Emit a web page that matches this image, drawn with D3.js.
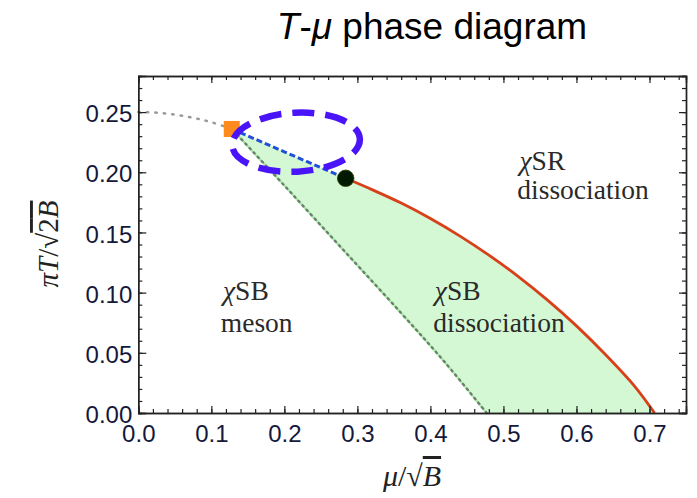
<!DOCTYPE html>
<html>
<head>
<meta charset="utf-8">
<script src="https://cdn.jsdelivr.net/npm/d3@7"></script>
<style>
  body { margin: 0; background: #fff; }
  svg { display: block; }
</style>
</head>
<body>
<div id="chart"></div>
<script>
// Tick values of the frame
const xTicks = [0, 0.1, 0.2, 0.3, 0.4, 0.5, 0.6, 0.7];
const yTicks = [0, 0.05, 0.10, 0.15, 0.20, 0.25];

// Gray dotted crossover line (mu = 0 up to the end point)
const crossMu = [0, 0.02, 0.04, 0.06, 0.08, 0.10, 0.128];
const crossT  = [0.250, 0.2497, 0.2487, 0.2470, 0.2446, 0.2416, 0.236];

// Dotted meson-melting line bounding the green region on the left
const mesonMu = [0.128, 0.20, 0.28, 0.36, 0.42, 0.477];
const mesonT  = [0.236, 0.189, 0.136, 0.083, 0.042, 0];

// Blue dashed first-order line between the two special points
const firstMu = [0.128, 0.20, 0.284];
const firstT  = [0.236, 0.217, 0.195];

// Red chiral transition line
const chiralMu = [0.284, 0.32, 0.36, 0.40, 0.44, 0.48, 0.52, 0.56, 0.60, 0.64, 0.68, 0.707];
const chiralT  = [0.195, 0.1856, 0.1744, 0.1616, 0.1472, 0.1312, 0.1136, 0.0940, 0.0724, 0.0484, 0.0220, 0];

// Special points
const endPoint = [0.128, 0.236];
const critPoint = [0.284, 0.195];

const width = 697, height = 498;

const svg = d3.select("#chart")
    .append("svg")
    .attr("width", width)
    .attr("height", height);

const x = d3.scaleLinear().domain([0, 0.75]).range([138.3, 686]);
const y = d3.scaleLinear().domain([0, 0.28]).range([413, 76]);

const zip = (a, b) => a.map((v, i) => [v, b[i]]);
const line = d3.line().x(d => x(d[0])).y(d => y(d[1]));
const smooth = d3.line().x(d => x(d[0])).y(d => y(d[1])).curve(d3.curveCatmullRom.alpha(0.5));

// Title
const title = svg.append("text")
    .attr("x", 432)
    .attr("y", 39)
    .attr("text-anchor", "middle")
    .style("font-family", "'Liberation Sans', Arial, sans-serif")
    .style("font-size", "37px")
    .style("fill", "#000");
title.append("tspan").style("font-style", "italic").text("T");
title.append("tspan").text("-");
title.append("tspan").style("font-style", "italic").text("μ");
title.append("tspan").text(" phase diagram");

// Green shaded region, outlined by the same smooth curves
const mesonPts = zip(mesonMu, mesonT).reverse();
const chiralPts = zip(chiralMu, chiralT);
const regionD = line(zip(firstMu, firstT)) +
    smooth(chiralPts).replace(/^M/, "L") +
    smooth(mesonPts).replace(/^M/, "L") + "Z";
svg.append("path")
    .attr("d", regionD)
    .style("fill", "#d3f8d3")
    .style("stroke", "none");

// Gray dotted crossover
svg.append("path")
    .attr("d", smooth(zip(crossMu, crossT)))
    .style("fill", "none")
    .style("stroke", "#9a9a9a")
    .style("stroke-width", 2.5)
    .style("stroke-dasharray", "1.5,7")
    .style("stroke-linecap", "round");

// Meson melting line: light green edge with gray dots
svg.append("path")
    .attr("d", smooth(mesonPts))
    .style("fill", "none")
    .style("stroke", "#a9eba9")
    .style("stroke-width", 2.5);
svg.append("path")
    .attr("d", smooth(mesonPts))
    .style("fill", "none")
    .style("stroke", "#6f7f6f")
    .style("stroke-width", 2.4)
    .style("stroke-dasharray", "1.5,4.5")
    .style("stroke-linecap", "round");

// Blue dashed line
svg.append("path")
    .attr("d", line(zip(firstMu, firstT)))
    .style("fill", "none")
    .style("stroke", "#2050d8")
    .style("stroke-width", 3)
    .style("stroke-dasharray", "6,3");

// Red transition line
svg.append("path")
    .attr("d", smooth(chiralPts))
    .style("fill", "none")
    .style("stroke", "#d8401a")
    .style("stroke-width", 2.8);

// End point (orange square) and critical point (black dot)
svg.append("rect")
    .attr("x", x(endPoint[0]) - 8)
    .attr("y", y(endPoint[1]) - 8)
    .attr("width", 16)
    .attr("height", 16)
    .style("fill", "#ff8a1e");

svg.append("circle")
    .attr("cx", x(critPoint[0]))
    .attr("cy", y(critPoint[1]))
    .attr("r", 8.3)
    .style("fill", "#021a02")
    .style("stroke", "#334400")
    .style("stroke-width", 0.8);

// Highlight ellipse
const ec = [0.216, 0.225];
svg.append("ellipse")
    .attr("cx", x(ec[0]))
    .attr("cy", y(ec[1]))
    .attr("rx", x(ec[0] + 0.0875) - x(ec[0]))
    .attr("ry", y(ec[1]) - y(ec[1] + 0.0245))
    .attr("transform", `rotate(-3 ${x(ec[0])} ${y(ec[1])})`)
    .style("fill", "none")
    .style("stroke", "#4a14f8")
    .style("stroke-width", 6.5)
    .style("stroke-dasharray", "22,11")
    .style("stroke-dashoffset", 6);

// Frame with inward ticks
const frame = svg.append("g");
const fontTicks = "'Liberation Sans', Arial, sans-serif";

function minorAxis(axis, scale, values) {
    return axis(scale).tickValues(values).tickSize(-4).tickFormat("");
}
const xMinor = d3.range(0, 0.751, 0.02);
const yMinor = d3.range(0, 0.281, 0.01);

frame.append("g").attr("transform", `translate(0,${y(0)})`)
    .call(minorAxis(d3.axisBottom, x, xMinor));
frame.append("g").attr("transform", `translate(0,${y(0.28)})`)
    .call(minorAxis(d3.axisTop, x, xMinor));
frame.append("g").attr("transform", `translate(${x(0)},0)`)
    .call(minorAxis(d3.axisLeft, y, yMinor));
frame.append("g").attr("transform", `translate(${x(0.75)},0)`)
    .call(minorAxis(d3.axisRight, y, yMinor));

frame.append("g").attr("transform", `translate(0,${y(0)})`)
    .call(d3.axisBottom(x).tickValues(xTicks).tickSize(-7).tickPadding(12).tickFormat(d3.format(".1f")));
frame.append("g").attr("transform", `translate(0,${y(0.28)})`)
    .call(d3.axisTop(x).tickValues(xTicks).tickSize(-7).tickFormat(""));
const yAxis = frame.append("g").attr("transform", `translate(${x(0)},0)`)
    .call(d3.axisLeft(y).tickValues(yTicks).tickSize(-8).tickPadding(6).tickFormat(d3.format(".2f")));
frame.append("g").attr("transform", `translate(${x(0.75)},0)`)
    .call(d3.axisRight(y).tickValues(yTicks).tickSize(-7).tickFormat(""));

frame.selectAll(".domain").style("stroke", "#222").style("stroke-width", 1.4);
frame.selectAll(".tick line").style("stroke", "#222").style("stroke-width", 1.2);
frame.selectAll(".tick text")
    .style("font-family", fontTicks)
    .style("font-size", "24px")
    .style("fill", "#14183a");
yAxis.selectAll(".tick text").attr("dy", "0.4em");

// Region labels
const serif = "'Liberation Serif', 'Times New Roman', serif";
function label(mx, ty, parts) {
    const t = svg.append("text")
        .attr("x", x(mx))
        .attr("y", y(ty))
        .style("font-family", serif)
        .style("font-size", "27.5px")
        .style("fill", "#2a2a2a");
    parts.forEach(p => t.append("tspan").style("font-style", p[1] ? "italic" : "normal").text(p[0]));
    return t;
}
label(0.116, 0.094, [["χ", true], ["SB", false]]);
label(0.113, 0.067, [["meson", false]]);
label(0.406, 0.094, [["χ", true], ["SB", false]]);
label(0.404, 0.067, [["dissociation", false]]);
label(0.522, 0.202, [["χ", true], ["SR", false]]);
label(0.519, 0.178, [["dissociation", false]]);

// Axis titles
const xt = svg.append("text")
    .attr("x", 412)
    .attr("y", 486)
    .attr("text-anchor", "middle")
    .style("font-family", serif)
    .style("font-size", "30px")
    .style("fill", "#222");
xt.append("tspan").style("font-style", "italic").text("μ");
xt.append("tspan").text("/√");
xt.append("tspan").style("font-style", "italic").style("text-decoration", "overline").text("B");

const yt = svg.append("text")
    .attr("transform", "translate(58,244) rotate(-90)")
    .attr("text-anchor", "middle")
    .style("font-family", serif)
    .style("font-size", "29px")
    .style("fill", "#222");
yt.append("tspan").style("font-style", "italic").text("πT");
yt.append("tspan").text("/√");
yt.append("tspan").style("text-decoration", "overline").text("2");
yt.append("tspan").style("font-style", "italic").style("text-decoration", "overline").text("B");
</script>
</body>
</html>
